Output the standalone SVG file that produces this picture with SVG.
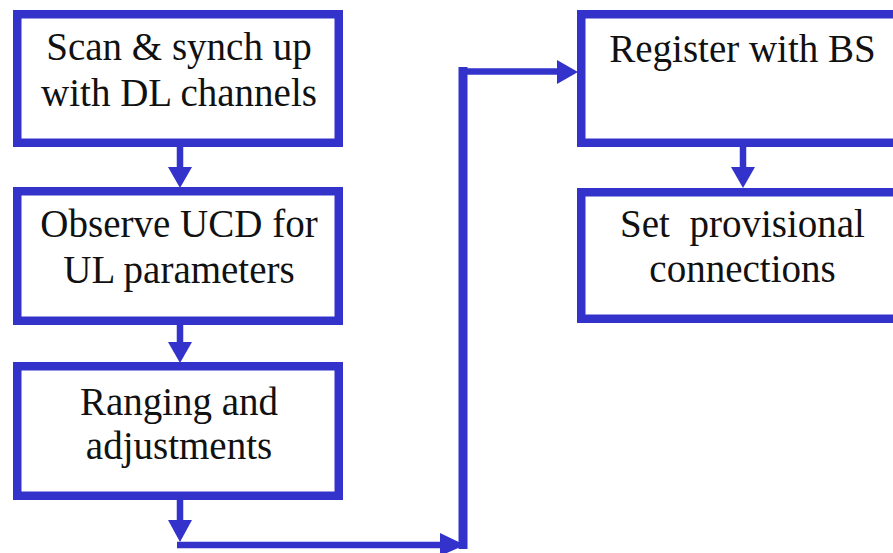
<svg xmlns="http://www.w3.org/2000/svg" width="893" height="553" viewBox="0 0 893 553">
  <style>
    .box { fill: #ffffff; stroke: #3333cc; stroke-width: 8.5; }
    .lbl { font-family: 'Liberation Serif', 'Times New Roman', serif; font-size: 39px; fill: #111111; text-anchor: middle; white-space: pre; }
    .con { fill: none; stroke: #3333cc; stroke-width: 6.5; }
    .head { fill: #3333cc; }
  </style>
  <rect width="893" height="553" fill="#ffffff"/>

  <g id="connectors">
    <line class="con" x1="180" y1="147" x2="180" y2="170"/>
    <polygon class="head" points="168,167 192,167 180,188"/>
    <line class="con" x1="180" y1="325" x2="180" y2="345"/>
    <polygon class="head" points="168,342 192,342 180,363"/>
    <line class="con" x1="180" y1="500" x2="180" y2="523"/>
    <polygon class="head" points="168,520 192,520 180,542"/>
    <path class="con" d="M177,545 H450"/>
    <polygon class="head" points="440,533 440,556 465,545"/>
    <line class="con" style="stroke-width:9" x1="463" y1="549" x2="463" y2="67"/>
    <path class="con" d="M459,71.5 H560"/>
    <polygon class="head" points="557,60 557,84 578,72"/>
    <line class="con" x1="743" y1="147" x2="743" y2="170"/>
    <polygon class="head" points="731,167 755,167 743,188"/>
  </g>

  <g id="n1">
    <rect class="box" x="17.25" y="14.25" width="321.5" height="128.5"/>
    <text class="lbl" x="179" y="60">Scan &amp; synch up</text>
    <text class="lbl" x="179" y="106">with DL channels</text>
  </g>
  <g id="n2">
    <rect class="box" x="17.25" y="191.25" width="321.5" height="129.5"/>
    <text class="lbl" x="179" y="237">Observe UCD for</text>
    <text class="lbl" x="179" y="283">UL parameters</text>
  </g>
  <g id="n3">
    <rect class="box" x="17.25" y="366.25" width="321.5" height="129.5"/>
    <text class="lbl" x="179" y="415">Ranging and</text>
    <text class="lbl" x="179" y="459">adjustments</text>
  </g>
  <g id="n4">
    <rect class="box" x="581.25" y="14.25" width="330" height="128.5"/>
    <text class="lbl" x="742.5" y="62">Register with BS</text>
  </g>
  <g id="n5">
    <rect class="box" x="581.25" y="192.25" width="330" height="126.5"/>
    <text class="lbl" x="742.5" y="237">Set  provisional</text>
    <text class="lbl" x="742.5" y="282">connections</text>
  </g>
</svg>
